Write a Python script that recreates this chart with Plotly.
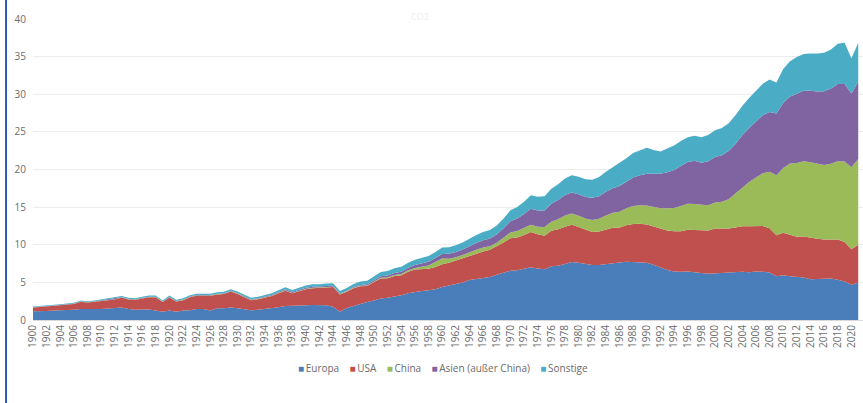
import plotly.graph_objects as go

years = list(range(1900, 2022))

# Emissionen in Gt je Region
europa = [
    1.15, 1.15, 1.2, 1.25, 1.25, 1.3, 1.35, 1.45, 1.4, 1.45,
    1.45, 1.5, 1.55, 1.65, 1.45, 1.35, 1.4, 1.4, 1.25, 1.1,
    1.25, 1.1, 1.25, 1.3, 1.45, 1.45, 1.25, 1.55, 1.55, 1.65,
    1.55, 1.4, 1.3, 1.35, 1.45, 1.55, 1.7, 1.85, 1.85, 1.9,
    1.95, 2.0, 1.95, 1.95, 1.75, 1.1, 1.6, 1.9, 2.2, 2.4,
    2.6, 2.85, 2.95, 3.1, 3.3, 3.55, 3.75, 3.85, 3.95, 4.1,
    4.4, 4.6, 4.8, 5.0, 5.3, 5.45, 5.55, 5.7, 6.0, 6.3,
    6.55, 6.6, 6.75, 7.0, 6.85, 6.75, 7.15, 7.2, 7.45, 7.7,
    7.6, 7.4, 7.3, 7.3, 7.45, 7.6, 7.65, 7.75, 7.7, 7.7,
    7.6, 7.35, 6.95, 6.65, 6.45, 6.4, 6.45, 6.3, 6.25, 6.15,
    6.2, 6.3, 6.25, 6.35, 6.4, 6.35, 6.45, 6.4, 6.3, 5.8,
    5.95, 5.8, 5.75, 5.65, 5.4, 5.45, 5.45, 5.5, 5.35, 5.1,
    4.7, 5.0,
]
usa = [
    0.52, 0.57, 0.56, 0.65, 0.7, 0.75, 0.79, 0.98, 0.93, 0.98,
    1.1, 1.1, 1.19, 1.33, 1.29, 1.34, 1.48, 1.63, 1.78, 1.29,
    1.74, 1.35, 1.39, 1.73, 1.77, 1.77, 1.96, 1.85, 1.89, 2.13,
    1.91, 1.62, 1.33, 1.42, 1.55, 1.63, 1.86, 2.05, 1.7, 1.92,
    2.13, 2.22, 2.27, 2.36, 2.62, 2.3, 2.14, 2.33, 2.27, 2.13,
    2.45, 2.65, 2.6, 2.75, 2.65, 2.85, 2.95, 2.95, 2.85, 2.95,
    3.0, 3.0, 3.1, 3.2, 3.3, 3.4, 3.55, 3.65, 3.8, 4.0,
    4.3, 4.35, 4.55, 4.7, 4.55, 4.45, 4.7, 4.85, 4.95, 4.95,
    4.75, 4.6, 4.4, 4.45, 4.6, 4.65, 4.65, 4.85, 5.05, 5.1,
    5.1, 5.05, 5.15, 5.25, 5.35, 5.4, 5.55, 5.65, 5.7, 5.75,
    5.95, 5.85, 5.9, 5.95, 6.05, 6.1, 6.0, 6.1, 5.9, 5.45,
    5.65, 5.5, 5.3, 5.45, 5.5, 5.35, 5.25, 5.2, 5.35, 5.25,
    4.7, 5.0,
]
china = [
    0.02, 0.02, 0.02, 0.02, 0.02, 0.02, 0.02, 0.02, 0.02, 0.02,
    0.03, 0.03, 0.03, 0.03, 0.03, 0.03, 0.03, 0.03, 0.03, 0.03,
    0.04, 0.04, 0.04, 0.04, 0.04, 0.04, 0.04, 0.04, 0.04, 0.04,
    0.05, 0.05, 0.05, 0.05, 0.05, 0.05, 0.05, 0.05, 0.05, 0.05,
    0.06, 0.06, 0.06, 0.06, 0.06, 0.06, 0.07, 0.07, 0.07, 0.07,
    0.08, 0.1, 0.12, 0.14, 0.16, 0.2, 0.22, 0.26, 0.45, 0.65,
    0.78, 0.55, 0.44, 0.44, 0.45, 0.5, 0.55, 0.45, 0.45, 0.58,
    0.78, 0.88, 0.92, 0.97, 0.99, 1.15, 1.2, 1.35, 1.5, 1.5,
    1.5, 1.5, 1.6, 1.7, 1.85, 2.0, 2.1, 2.25, 2.4, 2.45,
    2.5, 2.6, 2.75, 2.95, 3.1, 3.35, 3.45, 3.45, 3.35, 3.35,
    3.45, 3.55, 3.9, 4.5, 5.2, 5.9, 6.5, 7.0, 7.5, 8.0,
    8.6, 9.5, 9.8, 10.0, 10.05, 9.95, 9.9, 10.05, 10.4, 10.7,
    10.9, 11.4,
]
asien = [
    0.03, 0.03, 0.03, 0.03, 0.03, 0.03, 0.03, 0.03, 0.03, 0.03,
    0.04, 0.04, 0.04, 0.04, 0.04, 0.04, 0.04, 0.04, 0.04, 0.04,
    0.06, 0.06, 0.06, 0.06, 0.06, 0.06, 0.06, 0.06, 0.06, 0.06,
    0.08, 0.08, 0.08, 0.08, 0.09, 0.09, 0.1, 0.12, 0.12, 0.13,
    0.14, 0.14, 0.14, 0.14, 0.12, 0.06, 0.08, 0.1, 0.12, 0.14,
    0.16, 0.2, 0.23, 0.26, 0.3, 0.34, 0.4, 0.45, 0.5, 0.55,
    0.6, 0.65, 0.68, 0.72, 0.8, 0.88, 0.95, 1.02, 1.12, 1.3,
    1.5, 1.65, 1.85, 2.1, 2.15, 2.2, 2.4, 2.55, 2.7, 2.8,
    2.85, 2.85, 2.95, 3.0, 3.15, 3.25, 3.4, 3.55, 3.8, 4.0,
    4.25, 4.45, 4.6, 4.8, 5.05, 5.3, 5.55, 5.75, 5.6, 5.85,
    6.05, 6.2, 6.4, 6.6, 6.9, 7.15, 7.4, 7.7, 7.95, 8.2,
    8.65, 8.9, 9.2, 9.35, 9.5, 9.6, 9.8, 10.0, 10.25, 10.3,
    9.8, 10.25,
]
sonstige = [
    0.08, 0.08, 0.09, 0.1, 0.1, 0.1, 0.11, 0.12, 0.12, 0.12,
    0.13, 0.13, 0.14, 0.15, 0.14, 0.14, 0.15, 0.15, 0.15, 0.14,
    0.16, 0.15, 0.16, 0.17, 0.18, 0.18, 0.19, 0.2, 0.21, 0.22,
    0.21, 0.2, 0.19, 0.2, 0.22, 0.24, 0.26, 0.28, 0.28, 0.3,
    0.32, 0.33, 0.33, 0.34, 0.35, 0.33, 0.36, 0.4, 0.44, 0.46,
    0.55, 0.58, 0.6, 0.62, 0.65, 0.68, 0.7, 0.72, 0.75, 0.8,
    0.85, 0.88, 0.9, 0.95, 1.0, 1.05, 1.1, 1.15, 1.2, 1.3,
    1.45, 1.55, 1.65, 1.8, 1.85, 1.9, 2.0, 2.1, 2.2, 2.3,
    2.35, 2.35, 2.4, 2.55, 2.65, 2.8, 3.0, 3.1, 3.25, 3.35,
    3.45, 3.15, 2.95, 3.15, 3.25, 3.35, 3.3, 3.35, 3.4, 3.5,
    3.55, 3.6, 3.7, 3.8, 3.9, 4.0, 4.05, 4.2, 4.3, 4.1,
    4.5, 4.7, 4.9, 4.9, 4.95, 5.05, 5.1, 5.2, 5.35, 5.5,
    4.7, 5.15,
]

series = [
    ("Europa", europa, "#4a7ebb"),
    ("USA", usa, "#c0504d"),
    ("China", china, "#9bbb59"),
    ("Asien (außer China)", asien, "#8064a2"),
    ("Sonstige", sonstige, "#4bacc6"),
]

TEXT = "#6b6b6b"

fig = go.Figure()

for name, vals, color in series:
    fig.add_trace(go.Scatter(
        x=years, y=vals, name=name, stackgroup="one",
        mode="lines", line=dict(width=0, color=color),
        fillcolor=color, showlegend=False,
    ))

# Excel-style legend: small square right next to each name
gap = "\u00a0" * 4
legend_text = gap.join(
    f'<span style="color:{color}">■</span>\u2009{name}' for name, _, color in series
)

fig.update_layout(
    width=863, height=403,
    margin=dict(l=33, r=0, t=19, b=83),
    paper_bgcolor="white",
    plot_bgcolor="white",
    font=dict(family="Open Sans", size=10, color=TEXT),
    showlegend=False,
    annotations=[
        dict(
            text="CO2", x=0.466, y=1.037, xref="paper", yref="paper",
            showarrow=False, font=dict(size=9, color="#eeeeee"),
        ),
        dict(
            text=legend_text, x=0.494, y=-0.159, xref="paper", yref="paper",
            xanchor="center", yanchor="middle", showarrow=False,
            font=dict(size=10, color=TEXT),
        ),
    ],
    shapes=[dict(
        type="line", xref="paper", yref="paper",
        x0=-0.0325, x1=-0.0325, y0=-0.28, y1=1.07,
        line=dict(color="#2f55b8", width=2),
    )],
)

fig.update_xaxes(
    range=[1900, 2021.7], tickmode="linear", tick0=1900, dtick=2,
    tickangle=-90, tickfont=dict(size=10, color=TEXT),
    showgrid=False, zeroline=False, showline=True, linecolor="#d9d9d9",
    ticks="", automargin=False,
)
fig.update_yaxes(
    range=[0, 40], dtick=5, tickfont=dict(size=10, color=TEXT),
    gridcolor="#ececec", zeroline=False, showline=False,
    ticklabelstandoff=6, automargin=False,
)

# page has a default body margin of 8px; drop it so the chart sits at 0,0
fig.write_html(
    "out.html",
    config={"displayModeBar": False},
    post_script="document.body.style.margin='0';",
)
